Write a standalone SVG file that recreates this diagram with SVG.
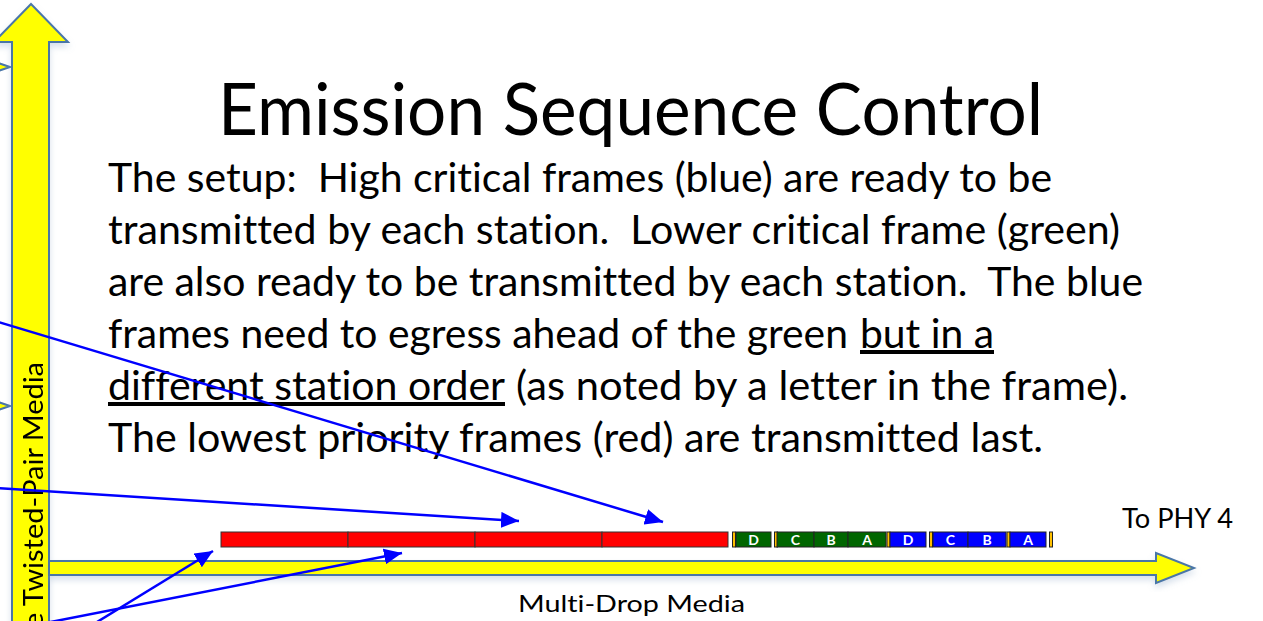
<svg xmlns="http://www.w3.org/2000/svg" width="1263" height="621" viewBox="0 0 1263 621">
<defs>
<style>
.t{font-family:Lato,"Open Sans","Liberation Sans",sans-serif;fill:#000;white-space:pre;font-variant-ligatures:none;font-feature-settings:"liga" 0,"clig" 0}
.body{font-size:40px}
.ul{text-decoration:underline}
.arr{fill:#FFFF00;stroke:#4A76A8;stroke-width:2;stroke-linejoin:miter}
.red{fill:#FF0000;stroke:#333;stroke-width:1}
.grn{fill:#006600;stroke:#222;stroke-width:1}
.blu{fill:#0000FF;stroke:#222;stroke-width:1}
.mk{fill:#FFC000;stroke:#222;stroke-width:1}
.lt{font-family:Lato,"Liberation Sans",sans-serif;font-weight:bold;font-size:14px;fill:#fff;text-anchor:middle}
.con{stroke:#0000FF;stroke-width:2.5;fill:none;marker-end:url(#ah)}
</style>
<filter id="sh" x="-10%" y="-10%" width="120%" height="140%">
<feDropShadow dx="0" dy="4" stdDeviation="3" flood-color="#8fa8c8" flood-opacity="0.35"/>
</filter>
<marker id="ah" markerUnits="userSpaceOnUse" markerWidth="20" markerHeight="16" refX="18" refY="8" orient="auto">
<path d="M0,0 L18,8 L0,16 Z" fill="#0000FF"/>
</marker>
</defs>
<rect width="1263" height="621" fill="#fff"/>

<g id="offscreen-arrow-tips">
<polygon class="arr" points="-20,57 10,67 -20,77"/>
<polygon class="arr" points="-20,396 10,406 -20,416"/>
</g>

<g id="twisted-pair-media" filter="url(#sh)">
<polygon class="arr" points="31,4 68,42 49,42 49,640 12,640 12,42 -6,42"/>
<text class="t" font-size="27" transform="translate(43,362) rotate(-90)" text-anchor="end" textLength="266" lengthAdjust="spacingAndGlyphs">e Twisted-Pair Media</text>
</g>

<g id="multi-drop-media" filter="url(#sh)">
<polygon class="arr" points="49,561 1156,561 1156,553 1194,568 1156,583 1156,575 49,575"/>
</g>
<g id="multi-drop-label">
<text class="t" x="518" y="612" font-size="24" textLength="227" lengthAdjust="spacingAndGlyphs">Multi-Drop Media</text>
</g>
<g id="to-phy4">
<text class="t" x="1122" y="528" font-size="26" textLength="111" lengthAdjust="spacingAndGlyphs">To PHY 4</text>
</g>

<g id="title">
<text class="t" x="218" y="135" font-size="72" textLength="825" lengthAdjust="spacingAndGlyphs">Emission Sequence Control</text>
</g>

<g id="description">
<text class="t body" x="108" y="192" textLength="944" lengthAdjust="spacingAndGlyphs">The setup:  High critical frames (blue) are ready to be</text>
<text class="t body" x="108" y="244" textLength="1012" lengthAdjust="spacingAndGlyphs">transmitted by each station.  Lower critical frame (green)</text>
<text class="t body" x="108" y="296" textLength="1035" lengthAdjust="spacingAndGlyphs">are also ready to be transmitted by each station.  The blue</text>
<text class="t body" x="108" y="348" textLength="740" lengthAdjust="spacingAndGlyphs">frames need to egress ahead of the green</text>
<text class="t body ul" x="860" y="348" textLength="134" lengthAdjust="spacingAndGlyphs">but in a</text>
<text class="t body ul" x="108" y="400" textLength="397" lengthAdjust="spacingAndGlyphs">different station order</text>
<text class="t body" x="516" y="400" textLength="612" lengthAdjust="spacingAndGlyphs">(as noted by a letter in the frame).</text>
<text class="t body" x="108" y="452" textLength="935" lengthAdjust="spacingAndGlyphs">The lowest priority frames (red) are transmitted last.</text>
</g>

<g id="red-frames">
<rect class="red" x="221" y="532" width="127" height="15"/>
<rect class="red" x="348" y="532" width="127" height="15"/>
<rect class="red" x="475" y="532" width="127" height="15"/>
<rect class="red" x="602" y="532" width="126" height="15"/>
</g>

<g id="green-frames">
<rect class="mk" x="732.5" y="532" width="3" height="15"/>
<rect class="grn" x="736" y="532" width="35" height="15"/>
<text class="lt" x="753.5" y="545">D</text>
<rect class="mk" x="774.5" y="532" width="3" height="15"/>
<rect class="grn" x="777" y="532" width="37" height="15"/>
<text class="lt" x="795.5" y="545">C</text>
<rect class="grn" x="814" y="532" width="34" height="15"/>
<text class="lt" x="831" y="545">B</text>
<rect class="grn" x="848" y="532" width="38" height="15"/>
<text class="lt" x="867" y="545">A</text>
</g>

<g id="blue-frames">
<rect class="mk" x="887" y="532" width="3" height="15"/>
<rect class="blu" x="890" y="532" width="36" height="15"/>
<text class="lt" x="908" y="545">D</text>
<rect class="mk" x="929.5" y="532" width="3" height="15"/>
<rect class="blu" x="933" y="532" width="35" height="15"/>
<text class="lt" x="950.5" y="545">C</text>
<rect class="blu" x="968" y="532" width="38" height="15"/>
<text class="lt" x="987" y="545">B</text>
<rect class="mk" x="1007" y="532" width="3" height="15"/>
<rect class="blu" x="1010" y="532" width="36" height="15"/>
<text class="lt" x="1028" y="545">A</text>
<rect class="mk" x="1049.5" y="532" width="3" height="15"/>
</g>

<g id="connectors">
<line class="con" x1="-5" y1="321" x2="663" y2="522"/>
<line class="con" x1="-5" y1="488" x2="519" y2="521"/>
<line class="con" x1="84" y1="630" x2="213" y2="551"/>
<line class="con" x1="20" y1="628" x2="402" y2="553"/>
</g>
</svg>
